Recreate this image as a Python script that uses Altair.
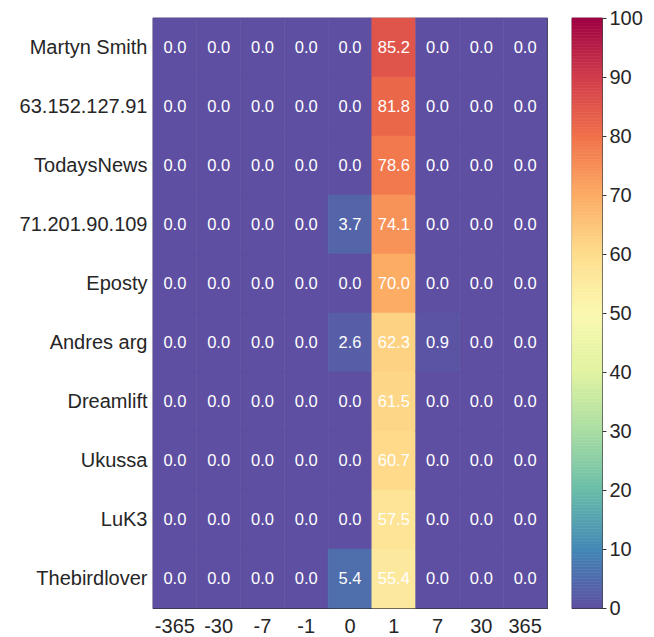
import altair as alt
import pandas as pd

names = ["Martyn Smith", "63.152.127.91", "TodaysNews", "71.201.90.109", "Eposty",
         "Andres arg", "Dreamlift", "Ukussa", "LuK3", "Thebirdlover"]
days = ["-365", "-30", "-7", "-1", "0", "1", "7", "30", "365"]

v_m365 = [0.0, 0.0, 0.0, 0.0, 0.0, 0.0, 0.0, 0.0, 0.0, 0.0]
v_m30 = [0.0, 0.0, 0.0, 0.0, 0.0, 0.0, 0.0, 0.0, 0.0, 0.0]
v_m7 = [0.0, 0.0, 0.0, 0.0, 0.0, 0.0, 0.0, 0.0, 0.0, 0.0]
v_m1 = [0.0, 0.0, 0.0, 0.0, 0.0, 0.0, 0.0, 0.0, 0.0, 0.0]
v_0 = [0.0, 0.0, 0.0, 3.7, 0.0, 2.6, 0.0, 0.0, 0.0, 5.4]
v_1 = [85.2, 81.8, 78.6, 74.1, 70.0, 62.3, 61.5, 60.7, 57.5, 55.4]
v_7 = [0.0, 0.0, 0.0, 0.0, 0.0, 0.9, 0.0, 0.0, 0.0, 0.0]
v_30 = [0.0, 0.0, 0.0, 0.0, 0.0, 0.0, 0.0, 0.0, 0.0, 0.0]
v_365 = [0.0, 0.0, 0.0, 0.0, 0.0, 0.0, 0.0, 0.0, 0.0, 0.0]

columns = [v_m365, v_m30, v_m7, v_m1, v_0, v_1, v_7, v_30, v_365]
cbar_ticks = [0, 10, 20, 30, 40, 50, 60, 70, 80, 90, 100]
cbar_min, cbar_max, cbar_step = 0.0, 100.0, 0.5

rows = []
for d, col in zip(days, columns):
    for n, v in zip(names, col):
        rows.append({"day": d, "name": n, "value": v})
df = pd.DataFrame(rows)

n_steps = int((cbar_max - cbar_min) / cbar_step)
cb = pd.DataFrame({"lo": [cbar_min + i * cbar_step for i in range(n_steps)]})
cb["hi"] = cb["lo"] + cbar_step
cb["mid"] = cb["lo"] + cbar_step / 2

FONT = "Liberation Sans"
DARK = "#262626"

cscale = alt.Scale(scheme="spectral", reverse=True, domain=[cbar_min, cbar_max])

base = alt.Chart(df).encode(
    x=alt.X("day:O", sort=days, title=None,
            scale=alt.Scale(paddingInner=0, paddingOuter=0),
            axis=alt.Axis(labelAngle=0, labelFontSize=20, labelColor=DARK, labelFont=FONT,
                          domain=False, ticks=False, grid=False, labelPadding=8)),
    y=alt.Y("name:O", sort=names, title=None,
            scale=alt.Scale(paddingInner=0, paddingOuter=0),
            axis=alt.Axis(labelFontSize=20, labelColor=DARK, labelFont=FONT,
                          domain=False, ticks=False, grid=False, labelPadding=6)),
)

rect = base.mark_rect(strokeWidth=0.6).encode(
    color=alt.Color("value:Q", scale=cscale, legend=None),
    stroke=alt.Color("value:Q", scale=cscale, legend=None),
)

text = base.mark_text(color="white", fontSize=16.5, font=FONT).encode(
    text=alt.Text("value:Q", format=".1f")
)

heat = (rect + text).properties(width=394, height=590)

cbar = alt.Chart(cb).mark_rect(strokeWidth=0.6).encode(
    y=alt.Y("lo:Q", title=None,
            scale=alt.Scale(domain=[cbar_min, cbar_max], nice=False, zero=False),
            axis=alt.Axis(orient="right", values=cbar_ticks, labelFontSize=20,
                          labelFont=FONT, labelColor=DARK, domain=False, grid=False,
                          ticks=True, tickSize=4, tickColor="#333333", tickWidth=1,
                          labelPadding=3, labelFlush=False, labelOverlap=False)),
    y2="hi:Q",
    color=alt.Color("mid:Q", scale=cscale, legend=None),
    stroke=alt.Color("mid:Q", scale=cscale, legend=None),
).properties(width=30, height=590)

chart = alt.hconcat(heat, cbar, spacing=23).properties(
    padding={"left": 18, "top": 7, "right": 5, "bottom": 5},
    background="white",
).resolve_scale(color="independent", stroke="independent").configure_view(
    stroke="#333333", strokeWidth=1.2)

chart.save("out.html", embed_options={"renderer": "svg", "actions": False})
